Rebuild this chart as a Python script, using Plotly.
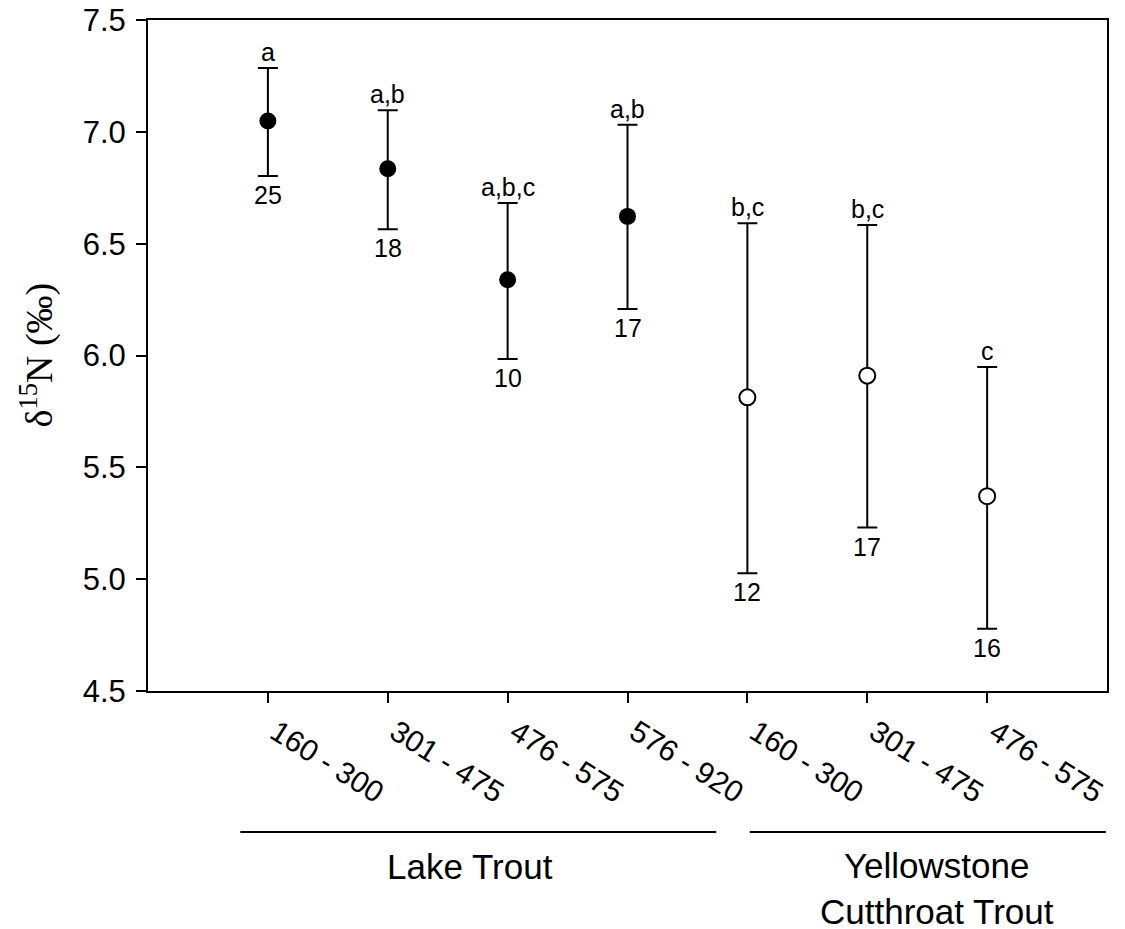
import plotly.graph_objects as go

# ---- data ----
categories = ["160 - 300", "301 - 475", "476 - 575", "576 - 920",
              "160 - 300", "301 - 475", "476 - 575"]
species = ["Lake Trout"] * 4 + ["Yellowstone Cutthroat Trout"] * 3
means = [7.048, 6.835, 6.339, 6.622, 5.813, 5.910, 5.371]
upper = [7.285, 7.096, 6.682, 7.032, 6.591, 6.583, 5.949]
lower = [6.802, 6.565, 5.984, 6.208, 5.027, 5.231, 4.778]
letters = ["a", "a,b", "a,b,c", "a,b", "b,c", "b,c", "c"]
n_values = [25, 18, 10, 17, 12, 17, 16]

xpos = list(range(1, len(categories) + 1))
err_hi = [u - m for u, m in zip(upper, means)]
err_lo = [m - l for m, l in zip(means, lower)]

fig = go.Figure()

lt = [i for i, s in enumerate(species) if s == "Lake Trout"]
yc = [i for i, s in enumerate(species) if s != "Lake Trout"]

for idx, filled in ((lt, True), (yc, False)):
    fig.add_trace(go.Scatter(
        x=[xpos[i] for i in idx],
        y=[means[i] for i in idx],
        mode="markers",
        marker=dict(size=16 if not filled else 17,
                    color="black" if filled else "white",
                    line=dict(color="black", width=0 if filled else 2),
                    symbol="circle"),
        error_y=dict(type="data", symmetric=False,
                     array=[err_hi[i] for i in idx],
                     arrayminus=[err_lo[i] for i in idx],
                     color="black", thickness=2, width=10),
        showlegend=False,
        hoverinfo="skip",
    ))

annot_font = dict(family="Liberation Sans, Arial", size=25, color="black")
for i in range(len(categories)):
    fig.add_annotation(x=xpos[i], y=upper[i], text=letters[i], showarrow=False,
                       yanchor="bottom", xanchor="center", yshift=0, font=annot_font)
    fig.add_annotation(x=xpos[i], y=lower[i], text=str(n_values[i]), showarrow=False,
                       yanchor="top", xanchor="center", yshift=-3, font=annot_font)

# group lines and labels
group_font = dict(family="Liberation Sans, Arial", size=35, color="black")
fig.add_shape(type="line", xref="x", yref="paper", x0=0.77, x1=4.74, y0=-0.210, y1=-0.210,
              line=dict(color="black", width=2))
fig.add_shape(type="line", xref="x", yref="paper", x0=5.02, x1=7.99, y0=-0.210, y1=-0.210,
              line=dict(color="black", width=2))
fig.add_annotation(x=2.69, y=-0.262, xref="x", yref="paper", text="Lake Trout",
                   showarrow=False, yanchor="middle", xanchor="center", font=group_font)
fig.add_annotation(x=6.58, y=-0.295, xref="x", yref="paper",
                   text="Yellowstone<br>Cutthroat Trout",
                   showarrow=False, yanchor="middle", xanchor="center", font=group_font)

# y-axis title as rotated annotation
fig.add_annotation(x=-0.1157, y=0.50, xref="paper", yref="paper",
                   text="δ<sup>15</sup>N (‰)", textangle=-90, showarrow=False,
                   xanchor="center", yanchor="middle",
                   font=dict(family="Liberation Serif, Times New Roman", size=38, color="black"))

fig.update_layout(
    width=1125, height=929,
    margin=dict(l=148, r=18, t=20, b=238),
    paper_bgcolor="white", plot_bgcolor="white",
    font=dict(family="Liberation Sans, Arial", color="black"),
)
fig.update_xaxes(
    range=[0, 8], tickvals=xpos, ticktext=categories, tickangle=32,
    ticklabelshift=8,
    showgrid=False, zeroline=False, automargin=False,
    showline=True, linecolor="black", linewidth=2, mirror=True,
    ticks="outside", ticklen=10, tickwidth=2, tickcolor="black",
    tickfont=dict(family="Liberation Sans, Arial", size=30, color="black"),
)
fig.update_yaxes(
    range=[4.5, 7.5], tickvals=[4.5, 5.0, 5.5, 6.0, 6.5, 7.0, 7.5],
    ticktext=["4.5", "5.0", "5.5", "6.0", "6.5", "7.0", "7.5"],
    ticklabelstandoff=4,
    showgrid=False, zeroline=False, automargin=False,
    showline=True, linecolor="black", linewidth=2, mirror=True,
    ticks="outside", ticklen=10, tickwidth=2, tickcolor="black",
    tickfont=dict(family="Liberation Sans, Arial", size=31, color="black"),
)

fig.write_html("out.html")
